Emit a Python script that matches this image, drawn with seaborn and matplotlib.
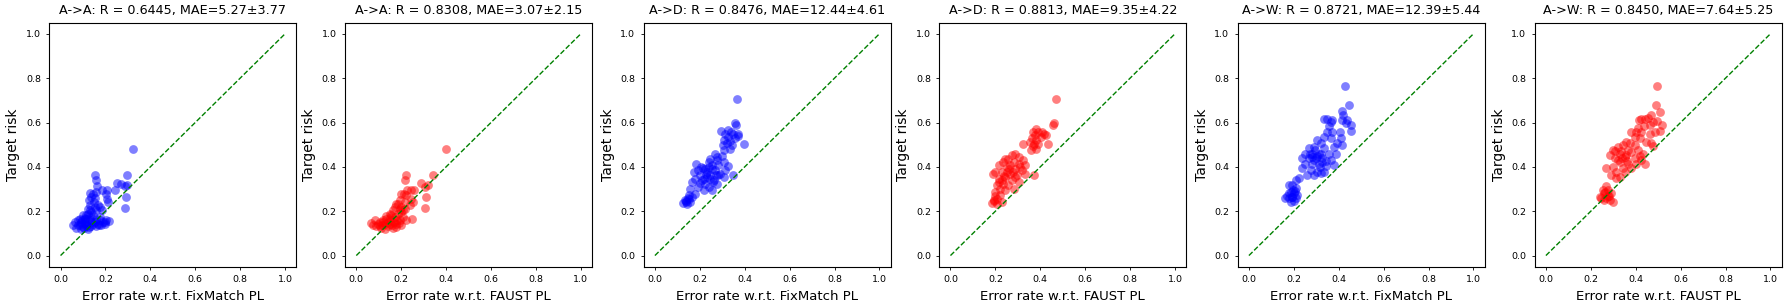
import matplotlib
matplotlib.use("Agg")
import matplotlib.pyplot as plt
import seaborn as sns

# ---- data (estimated) ----
titles = ["A->A: R = 0.6445, MAE=5.27\u00b13.77", "A->A: R = 0.8308, MAE=3.07\u00b12.15",
          "A->D: R = 0.8476, MAE=12.44\u00b14.61", "A->D: R = 0.8813, MAE=9.35\u00b14.22",
          "A->W: R = 0.8721, MAE=12.39\u00b15.44", "A->W: R = 0.8450, MAE=7.64\u00b15.25"]
xlabels = ["Error rate w.r.t. FixMatch PL", "Error rate w.r.t. FAUST PL"] * 3
colors = ["blue", "red"] * 3

aa_fix_x = [0.322, 0.155, 0.296, 0.253, 0.160, 0.270, 0.285, 0.297, 0.292, 0.288, 0.186, 0.208, 0.241,
            0.204, 0.207, 0.211, 0.163, 0.160, 0.130, 0.145, 0.137, 0.152, 0.148, 0.167, 0.160, 0.174,
            0.186, 0.064, 0.078, 0.071, 0.093, 0.100, 0.108, 0.115, 0.123, 0.130, 0.137, 0.115, 0.130,
            0.145, 0.152, 0.160, 0.174, 0.182, 0.189, 0.204, 0.216, 0.167, 0.145, 0.086, 0.100, 0.093,
            0.123, 0.108, 0.078, 0.137, 0.130, 0.123, 0.152, 0.196, 0.174, 0.115, 0.160, 0.057, 0.120,
            0.140, 0.110, 0.085, 0.095, 0.125, 0.135, 0.105, 0.090, 0.118, 0.128, 0.170, 0.200]
aa_fix_y = [0.479, 0.362, 0.364, 0.327, 0.339, 0.321, 0.312, 0.316, 0.264, 0.214, 0.297, 0.297, 0.297,
            0.276, 0.256, 0.241, 0.312, 0.286, 0.282, 0.279, 0.264, 0.261, 0.241, 0.226, 0.204, 0.219,
            0.204, 0.151, 0.136, 0.126, 0.151, 0.129, 0.166, 0.144, 0.189, 0.159, 0.132, 0.182, 0.204,
            0.182, 0.151, 0.166, 0.159, 0.136, 0.151, 0.162, 0.156, 0.144, 0.141, 0.166, 0.182, 0.121,
            0.121, 0.151, 0.159, 0.174, 0.226, 0.211, 0.219, 0.144, 0.174, 0.132, 0.132, 0.136, 0.140,
            0.150, 0.170, 0.140, 0.160, 0.130, 0.195, 0.125, 0.145, 0.165, 0.250, 0.140, 0.150]

aa_faust_x = [0.398, 0.223, 0.342, 0.290, 0.215, 0.319, 0.304, 0.312, 0.304, 0.242, 0.257, 0.227, 0.223,
              0.245, 0.252, 0.212, 0.200, 0.215, 0.238, 0.197, 0.208, 0.193, 0.186, 0.248, 0.064, 0.082,
              0.089, 0.104, 0.111, 0.126, 0.134, 0.141, 0.148, 0.156, 0.163, 0.171, 0.178, 0.186, 0.193,
              0.200, 0.208, 0.223, 0.171, 0.178, 0.156, 0.119, 0.096, 0.148, 0.163, 0.074, 0.141, 0.126,
              0.200, 0.215, 0.134, 0.167, 0.193, 0.115, 0.180, 0.105, 0.150, 0.190, 0.175, 0.120, 0.160]
aa_faust_y = [0.479, 0.362, 0.364, 0.327, 0.339, 0.316, 0.309, 0.264, 0.214, 0.297, 0.297, 0.297, 0.272,
              0.256, 0.241, 0.276, 0.279, 0.241, 0.230, 0.219, 0.204, 0.252, 0.234, 0.167, 0.147, 0.159,
              0.132, 0.151, 0.126, 0.144, 0.166, 0.132, 0.189, 0.159, 0.204, 0.174, 0.144, 0.189, 0.162,
              0.136, 0.174, 0.159, 0.219, 0.234, 0.182, 0.159, 0.144, 0.144, 0.126, 0.136, 0.151, 0.121,
              0.196, 0.211, 0.177, 0.151, 0.211, 0.140, 0.160, 0.135, 0.170, 0.145, 0.130, 0.150, 0.140]

ad_fix_x = [0.365, 0.355, 0.361, 0.294, 0.312, 0.327, 0.338, 0.350, 0.369, 0.372, 0.357, 0.325, 0.306,
            0.303, 0.321, 0.336, 0.343, 0.336, 0.306, 0.395, 0.350, 0.266, 0.276, 0.247, 0.298, 0.240,
            0.306, 0.325, 0.183, 0.172, 0.194, 0.216, 0.254, 0.283, 0.313, 0.268, 0.232, 0.202, 0.247,
            0.283, 0.306, 0.180, 0.217, 0.261, 0.165, 0.224, 0.276, 0.239, 0.194, 0.254, 0.217, 0.157,
            0.180, 0.150, 0.135, 0.142, 0.127, 0.157, 0.165, 0.150, 0.210, 0.232, 0.254, 0.276, 0.290,
            0.239, 0.205, 0.140, 0.148, 0.260, 0.228, 0.245, 0.270, 0.225, 0.200, 0.138]
ad_fix_y = [0.704, 0.599, 0.587, 0.560, 0.549, 0.567, 0.555, 0.548, 0.548, 0.537, 0.531, 0.534, 0.519,
            0.500, 0.507, 0.517, 0.500, 0.482, 0.477, 0.504, 0.362, 0.459, 0.444, 0.437, 0.447, 0.422,
            0.422, 0.403, 0.412, 0.377, 0.385, 0.396, 0.407, 0.407, 0.385, 0.385, 0.377, 0.362, 0.362,
            0.362, 0.354, 0.347, 0.347, 0.339, 0.332, 0.324, 0.321, 0.309, 0.309, 0.297, 0.297, 0.302,
            0.279, 0.257, 0.249, 0.234, 0.237, 0.241, 0.264, 0.272, 0.340, 0.355, 0.390, 0.430, 0.370,
            0.400, 0.400, 0.245, 0.260, 0.330, 0.370, 0.345, 0.365, 0.390, 0.325, 0.240]

ad_faust_x = [0.468, 0.460, 0.457, 0.383, 0.368, 0.391, 0.409, 0.417, 0.425, 0.403, 0.376, 0.361, 0.354,
              0.372, 0.383, 0.391, 0.325, 0.435, 0.379, 0.358, 0.369, 0.372, 0.288, 0.273, 0.303, 0.258,
              0.325, 0.236, 0.281, 0.303, 0.332, 0.214, 0.251, 0.288, 0.317, 0.199, 0.229, 0.266, 0.295,
              0.332, 0.244, 0.214, 0.273, 0.303, 0.236, 0.258, 0.207, 0.281, 0.222, 0.244, 0.199, 0.222,
              0.207, 0.192, 0.184, 0.207, 0.229, 0.199, 0.251, 0.288, 0.266, 0.244, 0.229, 0.310, 0.190,
              0.260, 0.280, 0.240, 0.215, 0.195]
ad_faust_y = [0.704, 0.599, 0.590, 0.572, 0.557, 0.557, 0.557, 0.547, 0.542, 0.534, 0.542, 0.531, 0.512,
              0.504, 0.519, 0.501, 0.501, 0.504, 0.482, 0.477, 0.492, 0.362, 0.459, 0.452, 0.444, 0.437,
              0.429, 0.422, 0.422, 0.414, 0.407, 0.407, 0.399, 0.392, 0.385, 0.377, 0.377, 0.369, 0.362,
              0.369, 0.354, 0.347, 0.342, 0.332, 0.324, 0.317, 0.317, 0.302, 0.302, 0.294, 0.287, 0.272,
              0.257, 0.249, 0.237, 0.234, 0.241, 0.267, 0.377, 0.354, 0.407, 0.437, 0.339, 0.400, 0.370,
              0.390, 0.375, 0.360, 0.330, 0.245]

aw_fix_x = [0.426, 0.446, 0.413, 0.420, 0.416, 0.431, 0.438, 0.456, 0.453, 0.334, 0.349, 0.371, 0.364,
            0.356, 0.349, 0.371, 0.406, 0.409, 0.364, 0.334, 0.394, 0.416, 0.379, 0.386, 0.304, 0.319,
            0.289, 0.267, 0.334, 0.252, 0.282, 0.312, 0.356, 0.237, 0.267, 0.297, 0.327, 0.364, 0.252,
            0.282, 0.312, 0.342, 0.379, 0.237, 0.275, 0.304, 0.334, 0.260, 0.289, 0.319, 0.223, 0.212,
            0.178, 0.193, 0.208, 0.178, 0.186, 0.200, 0.215, 0.163, 0.178, 0.193, 0.208, 0.186, 0.200,
            0.270, 0.295, 0.320, 0.290, 0.315, 0.345, 0.170, 0.198, 0.305, 0.325, 0.280, 0.190, 0.205]
aw_fix_y = [0.764, 0.681, 0.652, 0.634, 0.613, 0.596, 0.613, 0.561, 0.588, 0.616, 0.616, 0.613, 0.602,
            0.583, 0.559, 0.559, 0.559, 0.532, 0.532, 0.536, 0.507, 0.498, 0.491, 0.460, 0.521, 0.506,
            0.491, 0.483, 0.483, 0.460, 0.460, 0.460, 0.460, 0.438, 0.438, 0.438, 0.438, 0.430, 0.415,
            0.411, 0.415, 0.405, 0.408, 0.396, 0.386, 0.378, 0.378, 0.363, 0.363, 0.371, 0.348, 0.340,
            0.318, 0.318, 0.303, 0.280, 0.288, 0.280, 0.273, 0.258, 0.258, 0.265, 0.258, 0.243, 0.246,
            0.460, 0.475, 0.460, 0.430, 0.400, 0.425, 0.270, 0.295, 0.450, 0.420, 0.445, 0.265, 0.290]

aw_faust_x = [0.496, 0.489, 0.507, 0.470, 0.425, 0.440, 0.415, 0.455, 0.477, 0.495, 0.518, 0.507, 0.462,
              0.437, 0.410, 0.380, 0.403, 0.425, 0.462, 0.485, 0.395, 0.418, 0.447, 0.470, 0.477, 0.432,
              0.358, 0.373, 0.343, 0.395, 0.321, 0.299, 0.365, 0.410, 0.328, 0.284, 0.351, 0.306, 0.395,
              0.425, 0.328, 0.365, 0.403, 0.440, 0.299, 0.343, 0.269, 0.380, 0.314, 0.351, 0.292, 0.328,
              0.314, 0.269, 0.254, 0.276, 0.291, 0.261, 0.247, 0.269, 0.284, 0.299, 0.258, 0.310, 0.340,
              0.380, 0.420, 0.360, 0.275, 0.240, 0.335, 0.355, 0.320, 0.265, 0.280]
aw_faust_y = [0.764, 0.681, 0.648, 0.636, 0.616, 0.616, 0.613, 0.622, 0.604, 0.607, 0.590, 0.561, 0.590,
              0.583, 0.573, 0.555, 0.555, 0.555, 0.550, 0.558, 0.536, 0.532, 0.514, 0.507, 0.492, 0.460,
              0.513, 0.506, 0.498, 0.498, 0.491, 0.476, 0.476, 0.476, 0.460, 0.453, 0.446, 0.438, 0.438,
              0.430, 0.423, 0.415, 0.411, 0.411, 0.400, 0.396, 0.396, 0.393, 0.378, 0.378, 0.363, 0.356,
              0.348, 0.315, 0.295, 0.295, 0.280, 0.280, 0.261, 0.258, 0.252, 0.240, 0.251, 0.470, 0.440,
              0.465, 0.450, 0.425, 0.270, 0.262, 0.470, 0.455, 0.430, 0.285, 0.270]

panels_x = [aa_fix_x, aa_faust_x, ad_fix_x, ad_faust_x, aw_fix_x, aw_faust_x]
panels_y = [aa_fix_y, aa_faust_y, ad_fix_y, ad_faust_y, aw_fix_y, aw_faust_y]

# ---- figure ----
fig = plt.figure(figsize=(17.87, 3.03), dpi=100)
lefts = [0.0276, 0.1931, 0.3602, 0.5256, 0.6926, 0.8588]

for i in range(6):
    ax = fig.add_axes([lefts[i], 0.12, 0.1382, 0.805])
    sns.scatterplot(x=panels_x[i], y=panels_y[i], color=colors[i], alpha=0.5, s=40,
                    linewidth=0, ax=ax)
    ax.plot([0, 1], [0, 1], "g--", lw=1)
    ax.set_title(titles[i], fontsize=9.2)
    ax.set_xlabel(xlabels[i], fontsize=9.5)
    ax.set_ylabel("Target risk", fontsize=10)
    ax.tick_params(labelsize=6.8, length=2.5, width=0.6)
    ax.set_xticks([0, 0.2, 0.4, 0.6, 0.8, 1.0])
    ax.set_yticks([0, 0.2, 0.4, 0.6, 0.8, 1.0])
    for s in ax.spines.values():
        s.set_linewidth(0.8)

fig.savefig("out.png", dpi=100)
